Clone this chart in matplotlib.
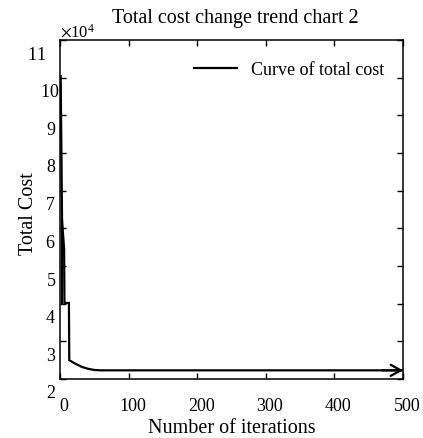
import matplotlib
matplotlib.use("Agg")
import matplotlib.pyplot as plt
import matplotlib.transforms as mtransforms

plt.rcParams['font.family'] = ['Liberation Serif', 'DejaVu Serif']
plt.rcParams['mathtext.fontset'] = 'stix'

# iteration history of the total cost (read at the break points of the curve)
iterations = [1, 3, 6, 6.5, 13, 13.5, 22, 32, 41, 50, 60, 500]
total_cost = [100400, 62000, 54500, 40200, 40200, 25000, 24100, 23200,
              22700, 22400, 22300, 22300]
# short branch at the start of the run
branch_iter = [3, 3]
branch_cost = [62000, 40200]

x_ticks = [0, 100, 200, 300, 400, 500]
y_ticks = [20000, 30000, 40000, 50000, 60000, 70000, 80000, 90000, 100000, 110000]

fig = plt.figure(figsize=(4.23, 4.39), dpi=100)
ax = fig.add_axes([60/423, 1 - 380/439, 343/423, 339/439])

ax.plot(iterations, total_cost, color='black', lw=1.6, label='Curve of total cost',
        solid_joinstyle='miter')
ax.plot(branch_iter, branch_cost, color='black', lw=1.6)
ax.annotate('', xy=(iterations[-1], total_cost[-1]),
            xytext=(iterations[-1] - 30, total_cost[-1]),
            arrowprops=dict(arrowstyle='->,head_length=0.45,head_width=0.25',
                            color='black', lw=1.6, mutation_scale=16,
                            shrinkA=0, shrinkB=0))

ax.set_xlim(0, 500)
ax.set_ylim(20000, 110000)
ax.set_xticks(x_ticks)
ax.set_yticks(y_ticks)
ax.ticklabel_format(style='sci', axis='y', scilimits=(4, 4), useMathText=True)
ax.yaxis.get_offset_text().set_fontsize(12)

ax.tick_params(direction='in', top=True, right=True, length=4, width=1,
               labelsize=13)
ax.tick_params(axis='x', pad=13)
ax.tick_params(axis='y', pad=3)
for s in ax.spines.values():
    s.set_linewidth(1.1)

# tick labels sit a little off their ticks
ylabs = ax.get_yticklabels()
for i, lab in enumerate(ylabs):
    sx = 0
    if i == len(ylabs) - 1:
        sx = -10
    elif i == len(ylabs) - 2:
        sx = 3
    off = mtransforms.ScaledTranslation(sx/100, -12/100, fig.dpi_scale_trans)
    lab.set_transform(lab.get_transform() + off)
dx = mtransforms.ScaledTranslation(4/100, 0, fig.dpi_scale_trans)
for lab in ax.get_xticklabels():
    lab.set_transform(lab.get_transform() + dx)

ax.set_title('Total cost change trend chart 2', fontsize=14.5, pad=13, x=0.51)
ax.set_xlabel('Number of iterations', fontsize=14.5, labelpad=3)
ax.set_ylabel('Total Cost', fontsize=14.5)
ax.yaxis.set_label_coords(-0.064, 0.49)

ax.legend(loc='center left', bbox_to_anchor=(194/423, 1 - 71/439),
          bbox_transform=fig.transFigure, frameon=False, fontsize=13,
          handlelength=2.4, handletextpad=0.75, borderpad=0, borderaxespad=0)

fig.savefig('out.png', dpi=100)
